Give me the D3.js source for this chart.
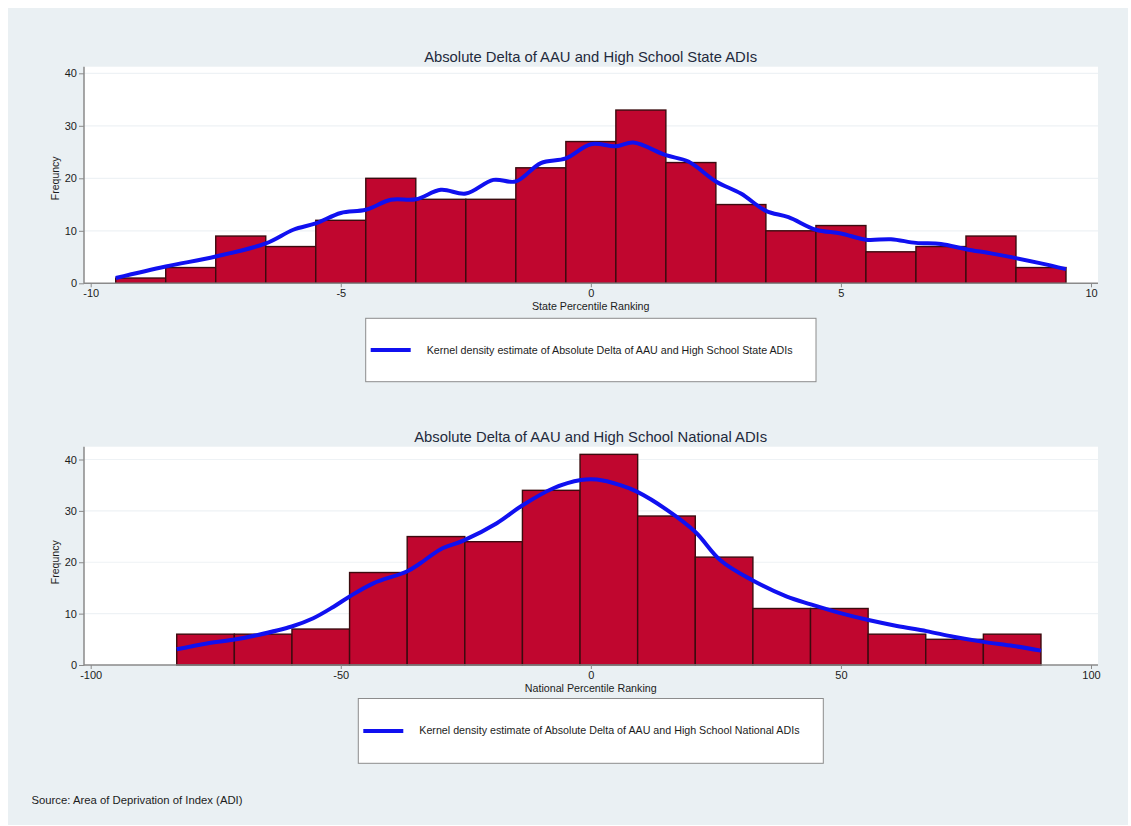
<!DOCTYPE html>
<html>
<head>
<meta charset="utf-8">
<script src="https://cdn.jsdelivr.net/npm/d3@7"></script>
<style>
  html, body { margin: 0; padding: 0; background: #ffffff; }
  svg { display: block; font-family: "Liberation Sans", Arial, Helvetica, sans-serif; }
</style>
</head>
<body>
<svg id="chart" width="1131" height="826"></svg>
<script>
// ---- State percentile ranking histogram (bin width 1, first edge -9.5) ----
const stateBinStart = -9.5;
const stateBinWidth = 1;
const stateCounts = [1, 3, 9, 7, 12, 20, 16, 16, 22, 27, 33, 23, 15, 10, 11, 6, 7, 9, 3];
// Kernel density estimate, expressed in frequency units
const stateKdeX = [-9.5, -8.5, -7.5, -6.5, -5.95, -5.5, -5.0, -4.5, -4.0, -3.5, -3.0, -2.5, -1.95, -1.5, -1.0, -0.5, 0.0, 0.5, 0.85, 1.5, 1.95, 2.5, 3.0, 3.5, 3.95, 4.5, 5.0, 5.5, 6.0, 6.5, 7.0, 7.5, 8.0, 8.5, 9.0, 9.5];
const stateKdeY = [1.0, 3.2, 5.1, 7.6, 10.2, 11.4, 13.4, 14.0, 15.9, 16.0, 17.8, 17.1, 19.7, 19.4, 22.9, 23.8, 26.5, 26.1, 26.8, 24.4, 23.2, 19.4, 17.1, 13.8, 12.6, 10.2, 9.5, 8.3, 8.4, 7.7, 7.5, 6.5, 5.7, 4.8, 3.8, 2.7];
const stateTicksX = [-10, -5, 0, 5, 10];

// ---- National percentile ranking histogram (15 bins from -82.8 to 90) ----
const natBinStart = -82.8;
const natBinWidth = 11.52;
const natCounts = [6, 6, 7, 18, 25, 24, 34, 41, 29, 21, 11, 11, 6, 5, 6];
const natKdeX = [-82.8, -76.8, -71.5, -66.8, -59.8, -55.5, -51.5, -48.3, -43.5, -36.8, -34.1, -30.1, -25.5, -18.8, -13.8, -7.5, -2.0, 1.2, 5.9, 9.3, 15.2, 20.9, 25.9, 32.3, 39.2, 44.0, 49.9, 55.5, 61.2, 67.1, 72.5, 78.5, 84.5, 90.0];
const natKdeY = [3.05, 4.2, 4.9, 5.8, 7.5, 9.1, 11.3, 13.3, 15.9, 18.2, 19.8, 22.5, 24.2, 27.6, 31.0, 34.4, 36.0, 36.1, 35.0, 33.7, 30.2, 25.9, 20.4, 16.5, 13.3, 11.8, 10.1, 8.75, 7.6, 6.6, 5.5, 4.5, 3.7, 2.8];
const natTicksX = [-100, -50, 0, 50, 100];

const freqTicks = [0, 10, 20, 30, 40];

const svg = d3.select("#chart");

// page background panel
svg.append("rect")
  .attr("x", 8).attr("y", 8).attr("width", 1120).attr("height", 817)
  .attr("fill", "#eaf0f3");

const barFill = "#c0062f";
const barStroke = "#3b0b0f";
const kdeColor = "#1010f0";
const textColor = "#1c1c1c";
const titleColor = "#1f2a3c";
const plainNum = d => String(d);   // hyphen-minus, not the unicode minus

function panel(opts) {
  const g = svg.append("g");
  const x = d3.scaleLinear().domain(opts.xDomain).range([90.7, 1091]);
  const y = d3.scaleLinear().domain([0, 40]).range([opts.y0, opts.y40]);

  // white plot region
  g.append("rect")
    .attr("x", 84).attr("y", opts.plotTop)
    .attr("width", 1098 - 84).attr("height", opts.y0 - opts.plotTop)
    .attr("fill", "#ffffff");

  // faint horizontal grid
  g.append("g").selectAll("line")
    .data(freqTicks.filter(d => d > 0))
    .join("line")
    .attr("x1", 84).attr("x2", 1098)
    .attr("y1", d => y(d)).attr("y2", d => y(d))
    .attr("stroke", "#eef2f5").attr("stroke-width", 1.2);

  // histogram bars
  const bins = opts.counts.map((c, i) => ({
    x0: opts.binStart + i * opts.binWidth,
    x1: opts.binStart + (i + 1) * opts.binWidth,
    n: c
  }));
  g.append("g").selectAll("rect")
    .data(bins)
    .join("rect")
    .attr("x", d => x(d.x0))
    .attr("width", d => x(d.x1) - x(d.x0))
    .attr("y", d => y(d.n))
    .attr("height", d => y(0) - y(d.n))
    .attr("fill", barFill)
    .attr("stroke", barStroke)
    .attr("stroke-width", 1.4);

  // kernel density curve
  const pts = opts.kdeX.map((v, i) => [v, opts.kdeY[i]]);
  g.append("path")
    .datum(pts)
    .attr("fill", "none")
    .attr("stroke", kdeColor)
    .attr("stroke-width", 4)
    .attr("stroke-linejoin", "round")
    .attr("d", d3.line().x(d => x(d[0])).y(d => y(d[1])).curve(d3.curveCatmullRom.alpha(0.5)));

  // y axis
  const yAxis = g.append("g")
    .attr("transform", "translate(84,0)")
    .call(d3.axisLeft(y).tickValues(freqTicks).tickFormat(plainNum).tickSize(5).tickPadding(2));
  yAxis.select(".domain").attr("stroke", "#8a8a8a").attr("stroke-width", 1.5)
    .attr("d", `M0,${opts.y0 + 0.5}V${opts.plotTop}`);
  yAxis.selectAll(".tick line").attr("stroke", "#8a8a8a");
  yAxis.selectAll(".tick text")
    .attr("fill", textColor).attr("font-size", 11)
    .attr("font-family", "'Liberation Sans', Arial, sans-serif");

  // x axis
  const xAxis = g.append("g")
    .attr("transform", `translate(0,${opts.y0})`)
    .call(d3.axisBottom(x).tickValues(opts.ticks).tickFormat(plainNum).tickSize(4).tickPadding(2));
  xAxis.select(".domain").attr("stroke", "#8a8a8a").attr("stroke-width", 1.5)
    .attr("d", "M84,0H1098");
  xAxis.selectAll(".tick line").attr("stroke", "#8a8a8a");
  xAxis.selectAll(".tick text")
    .attr("fill", textColor).attr("font-size", 11)
    .attr("font-family", "'Liberation Sans', Arial, sans-serif");

  // titles and labels
  g.append("text")
    .attr("x", 590.7).attr("y", opts.titleY)
    .attr("text-anchor", "middle")
    .attr("fill", titleColor).attr("font-size", 14.8)
    .text(opts.title);

  g.append("text")
    .attr("x", 590.7).attr("y", opts.y0 + 27)
    .attr("text-anchor", "middle")
    .attr("fill", textColor).attr("font-size", 10.7)
    .text(opts.xLabel);

  g.append("text")
    .attr("transform", `translate(59,${(opts.y0 + opts.y40) / 2}) rotate(-90)`)
    .attr("text-anchor", "middle")
    .attr("fill", textColor).attr("font-size", 10.5)
    .text("Frequncy");

  // legend
  const lg = g.append("g");
  lg.append("rect")
    .attr("x", opts.legend.x).attr("y", opts.legend.y)
    .attr("width", opts.legend.w).attr("height", opts.legend.h)
    .attr("fill", "#ffffff").attr("stroke", "#8c8c8c").attr("stroke-width", 1);
  const ly = opts.legend.y + opts.legend.h / 2;
  lg.append("line")
    .attr("x1", opts.legend.x + 5).attr("x2", opts.legend.x + 45)
    .attr("y1", ly).attr("y2", ly)
    .attr("stroke", kdeColor).attr("stroke-width", 4);
  lg.append("text")
    .attr("x", opts.legend.x + 61).attr("y", ly + 3.5)
    .attr("fill", textColor).attr("font-size", 10.7)
    .text(opts.legendText);
}

panel({
  xDomain: [-10, 10],
  y0: 283.3, y40: 73.3, plotTop: 66.7,
  counts: stateCounts, binStart: stateBinStart, binWidth: stateBinWidth,
  kdeX: stateKdeX, kdeY: stateKdeY, ticks: stateTicksX,
  title: "Absolute Delta of AAU and High School State ADIs",
  titleY: 62,
  xLabel: "State Percentile Ranking",
  legend: { x: 365.7, y: 318.3, w: 450.3, h: 63.4 },
  legendText: "Kernel density estimate of Absolute Delta of AAU and High School State ADIs"
});

panel({
  xDomain: [-100, 100],
  y0: 665, y40: 459.5, plotTop: 446.7,
  counts: natCounts, binStart: natBinStart, binWidth: natBinWidth,
  kdeX: natKdeX, kdeY: natKdeY, ticks: natTicksX,
  title: "Absolute Delta of AAU and High School National ADIs",
  titleY: 442,
  xLabel: "National Percentile Ranking",
  legend: { x: 358.3, y: 698.5, w: 465, h: 64.8 },
  legendText: "Kernel density estimate of Absolute Delta of AAU and High School National ADIs"
});

svg.append("text")
  .attr("x", 31.5).attr("y", 804)
  .attr("fill", textColor).attr("font-size", 11.3)
  .text("Source: Area of Deprivation of Index (ADI)");
</script>
</body>
</html>
